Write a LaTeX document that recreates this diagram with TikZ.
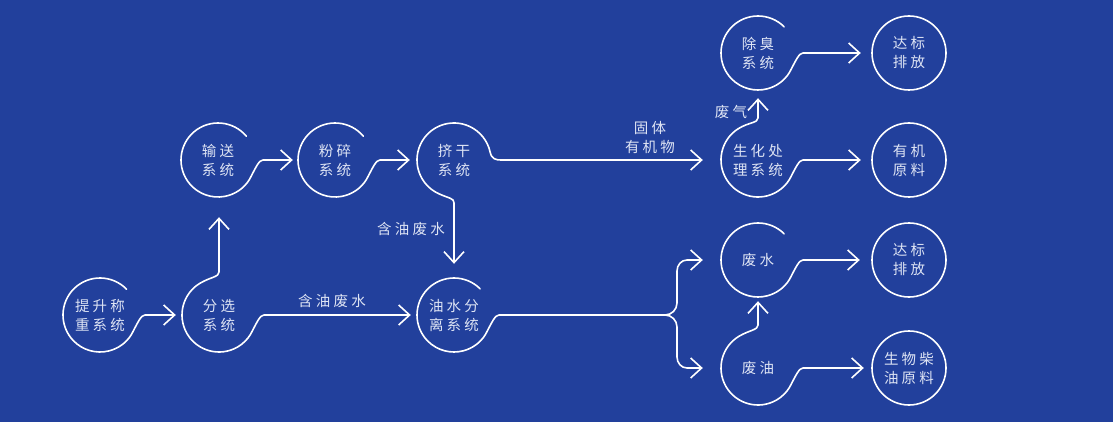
\documentclass[tikz,border=0pt]{standalone}
\usepackage{fontspec}
\newfontfamily\cjk[LetterSpace=22]{Noto Sans CJK SC}
\usetikzlibrary{arrows.meta,calc}
\definecolor{bg}{RGB}{34,64,156}
\definecolor{txt}{RGB}{222,228,244}
\def\rad{37}
\begin{document}
\begin{tikzpicture}[x=1pt,y=1pt,
  cnode/.style={circle,minimum size=74pt,inner sep=0pt,text=txt,align=center,
    font=\cjk\fontsize{14.5}{19}\selectfont},
  lbl/.style={text=txt,align=center,inner sep=0pt,font=\cjk\fontsize{14.5}{19}\selectfont},
  ln/.style={draw=white,line width=1.6pt,line cap=round,line join=round},
  arr/.style={ln,-{Straight Barb[length=11pt,width=20pt]}}]
\fill[bg] (0,0) rectangle (1113,-422);
\useasboundingbox (0,0) rectangle (1113,-422);
% nodes
\node[cnode] (T) at (100,-315) {提升称\\重系统};
\node[cnode] (F) at (219,-315) {分选\\系统};
\node[cnode] (S) at (218,-160) {输送\\系统};
\node[cnode] (P) at (335,-160) {粉碎\\系统};
\node[cnode] (J) at (454,-160) {挤干\\系统};
\node[cnode] (Y) at (454,-315) {油水分\\离系统};
\node[cnode] (C) at (758,-53) {除臭\\系统};
\node[cnode] (B) at (758,-160) {生化处\\理系统};
\node[cnode] (D1) at (909,-53) {达标\\排放};
\node[cnode] (O) at (909,-160) {有机\\原料};
\node[cnode] (W) at (758,-260) {废水};
\node[cnode] (D2) at (909,-260) {达标\\排放};
\node[cnode] (L) at (758,-368) {废油};
\node[cnode] (E) at (909,-368) {生物柴\\油原料};
\coordinate (ysplit) at (665,-315);
% full circles
\foreach \n in {D1,O,D2,E} \draw[ln] (\n) circle[radius=\rad];
\tikzset{rt/.style={}}
% T
\draw[arr,shorten >=6pt] ($(T)+(44:\rad)$) arc[start angle=44,end angle=328,radius=\rad]
  .. controls +(62:14) and +(-4,0) .. ($(T)+(\rad+8,0)$) -- (F.west);
% F
\draw[arr,shorten >=6pt] ($(F)+(120:\rad)$) arc[start angle=120,end angle=328,radius=\rad]
  .. controls +(62:14) and +(-4,0) .. ($(F)+(\rad+8,0)$) -- (Y.west);
\draw[arr,shorten >=20pt] ($(F)+(120:\rad)$) .. controls +(30:12) and +(0,-5) .. ($(F)+(0,\rad+6)$) -- (F|-S.south);
% S
\draw[arr,shorten >=5pt] ($(S)+(40:\rad)$) arc[start angle=40,end angle=328,radius=\rad]
  .. controls +(62:14) and +(-4,0) .. ($(S)+(\rad+8,0)$) -- (P.west);
% P
\draw[arr,shorten >=7pt] ($(P)+(40:\rad)$) arc[start angle=40,end angle=328,radius=\rad]
  .. controls +(62:14) and +(-4,0) .. ($(P)+(\rad+8,0)$) -- (J.west);
% J
\draw[arr,shorten >=18pt] ($(J)+(245:\rad)$) arc[start angle=245,end angle=12,radius=\rad]
  .. controls +(-78:7) and +(-5,0) .. ($(J)+(\rad+10,0)$) -- (B.west);
\draw[arr,shorten >=14pt] ($(J)+(245:\rad)$) .. controls +(-25:12) and +(0,5) .. ($(J)+(0,-\rad-6)$) -- (J|-Y.north);
% Y
\draw[ln] ($(Y)+(45:\rad)$) arc[start angle=45,end angle=328,radius=\rad]
  .. controls +(62:14) and +(-4,0) .. ($(Y)+(\rad+8,0)$) -- (ysplit);
\draw[arr,shorten >=18pt] (ysplit) to[out=0,in=-90] ++(12,12) -- ++(0,32) to[out=90,in=180] ++(10,11) -- (W.west);
\draw[arr,shorten >=18pt] (ysplit) to[out=0,in=90] ++(12,-12) -- ++(0,-30) to[out=-90,in=180] ++(10,-11) -- (L.west);
% C
\draw[arr,shorten >=11pt] ($(C)+(45:\rad)$) arc[start angle=45,end angle=328,radius=\rad]
  .. controls +(62:14) and +(-4,0) .. ($(C)+(\rad+8,0)$) -- (D1.west);
% B
\draw[arr,shorten >=11pt] ($(B)+(122:\rad)$) arc[start angle=122,end angle=328,radius=\rad]
  .. controls +(62:14) and +(-4,0) .. ($(B)+(\rad+8,0)$) -- (O.west);
\draw[arr,shorten >=8pt] ($(B)+(122:\rad)$) .. controls +(32:12) and +(0,-5) .. ($(B)+(0,\rad+5)$) -- (B|-C.south);
% W
\draw[arr,shorten >=12pt] ($(W)+(45:\rad)$) arc[start angle=45,end angle=328,radius=\rad]
  .. controls +(62:14) and +(-4,0) .. ($(W)+(\rad+8,0)$) -- (D2.west);
% L
\draw[arr,shorten >=8pt] ($(L)+(120:\rad)$) arc[start angle=120,end angle=328,radius=\rad]
  .. controls +(62:14) and +(-4,0) .. ($(L)+(\rad+8,0)$) -- (E.west);
\draw[arr,shorten >=4pt] ($(L)+(120:\rad)$) .. controls +(30:12) and +(0,-5) .. ($(L)+(0,\rad+6)$) -- (L|-W.south);
% labels
\node[lbl] (l1) at (411,-229) {含油废水};
\node[lbl] (l2) at (332,-301) {含油废水};
\node[lbl] (l3) at (650,-138) {固体\\有机物};
\node[lbl] (l4) at (731,-112) {废气};
\end{tikzpicture}
\end{document}
